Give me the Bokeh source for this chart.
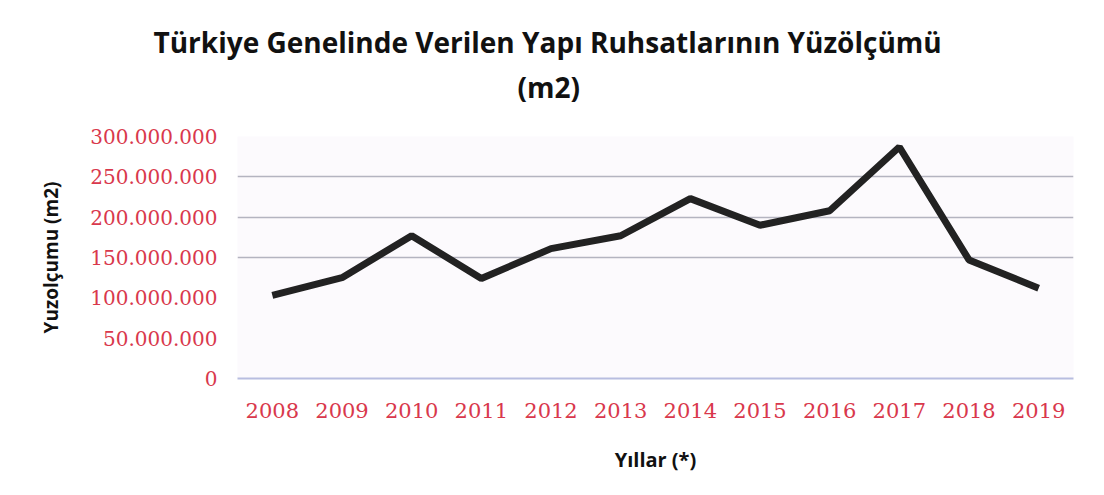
from bokeh.plotting import figure
from bokeh.models import FixedTicker, Range1d, Title
from bokeh.embed import file_html
from bokeh.resources import INLINE

years = ["2008", "2009", "2010", "2011", "2012", "2013",
         "2014", "2015", "2016", "2017", "2018", "2019"]
area_m2 = [103_000_000, 125_000_000, 177_000_000, 124_000_000, 161_000_000, 177_000_000,
           223_000_000, 190_000_000, 208_000_000, 287_000_000, 147_000_000, 112_000_000]
y_ticks = [0, 50_000_000, 100_000_000, 150_000_000, 200_000_000, 250_000_000, 300_000_000]
y_tick_labels = ["0", "50.000.000", "100.000.000", "150.000.000",
                 "200.000.000", "250.000.000", "300.000.000"]
grid_values = [150_000_000, 200_000_000, 250_000_000, 300_000_000]
title_line1 = "Türkiye Genelinde Verilen Yapı Ruhsatlarının Yüzölçümü"
title_line2 = "(m2)"

RED = "#d9384c"

p = figure(width=1096, height=487, x_range=years, y_range=Range1d(0, 300_000_000),
           output_backend="svg", toolbar_location=None,
           min_border_left=237, min_border_right=23, min_border_top=136, min_border_bottom=109)

p.background_fill_color = "#fcfafd"
p.border_fill_color = "white"
p.outline_line_color = None

p.line(years, area_m2, line_width=7, line_color="#222222")

# titles (first added is closest to the frame)
p.add_layout(Title(text=title_line2, align="left", offset=280, text_font="Open Sans",
                   text_font_size="28px", text_font_style="bold", text_color="#111111",
                   standoff=61), "above")
p.add_layout(Title(text=title_line1, align="left", offset=-84, text_font="Open Sans",
                   text_font_size="28px", text_font_style="bold", text_color="#111111",
                   standoff=-51), "above")

# y axis
p.yaxis.ticker = FixedTicker(ticks=y_ticks)
p.yaxis.major_label_overrides = dict(zip(y_ticks, y_tick_labels))
p.yaxis.axis_line_color = None
p.yaxis.major_tick_line_color = None
p.yaxis.major_tick_out = 0
p.yaxis.major_tick_in = 0
p.yaxis.minor_tick_line_color = None
p.yaxis.major_label_text_font = "DejaVu Serif"
p.yaxis.major_label_text_font_size = "20px"
p.yaxis.major_label_text_color = RED
p.yaxis.major_label_standoff = 20
p.yaxis.axis_label = "Yuzolçumu (m2)"
p.yaxis.axis_label_text_font = "Open Sans"
p.yaxis.axis_label_text_font_style = "bold"
p.yaxis.axis_label_text_font_size = "19px"
p.yaxis.axis_label_text_color = "#111111"
p.yaxis.axis_label_standoff = 23

# x axis
p.xaxis.axis_line_color = "#b8bde0"
p.xaxis.axis_line_width = 2
p.xaxis.major_tick_line_color = None
p.xaxis.major_tick_out = 0
p.xaxis.major_tick_in = 0
p.xaxis.minor_tick_line_color = None
p.xaxis.major_label_text_font = "DejaVu Serif"
p.xaxis.major_label_text_font_size = "21px"
p.xaxis.major_label_text_color = RED
p.xaxis.major_label_standoff = 24
p.xaxis.axis_label = "Yıllar (*)"
p.xaxis.axis_label_text_font = "Open Sans"
p.xaxis.axis_label_text_font_style = "bold"
p.xaxis.axis_label_text_font_size = "20px"
p.xaxis.axis_label_text_color = "#111111"
p.xaxis.axis_label_standoff = 25

# grid
p.xgrid.grid_line_color = None
p.ygrid.ticker = FixedTicker(ticks=grid_values)
p.ygrid.grid_line_color = "#b4b4c0"
p.ygrid.grid_line_width = 1.5

open("out.html", "w").write(file_html(p, INLINE))
